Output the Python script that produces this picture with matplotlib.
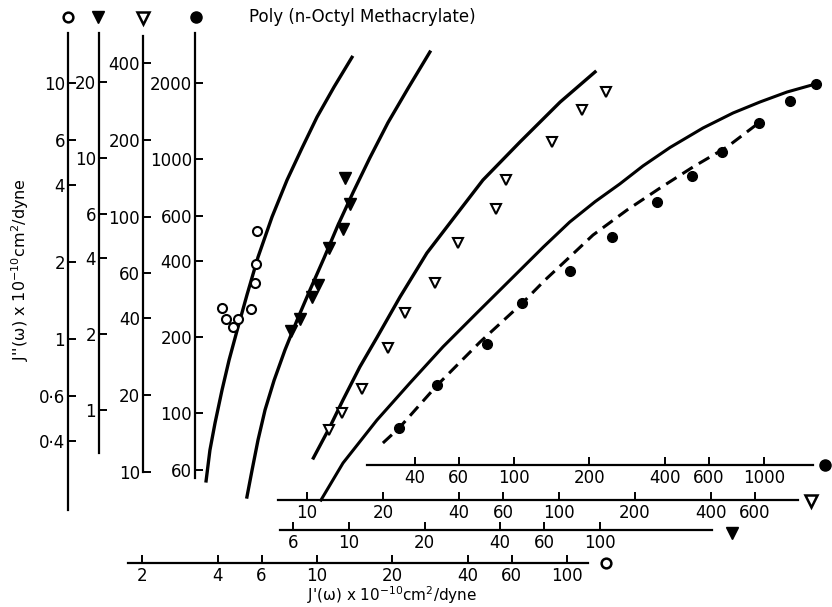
import matplotlib.pyplot as plt

plt.rcParams['font.family'] = 'DejaVu Sans'
plt.rcParams['mathtext.default'] = 'regular'

# --- values (each symbol has its own pair of scales) ---
# open circles
oc_x = [4.17, 4.31, 4.61, 4.81, 5.45, 5.65, 5.70, 5.75]
oc_y = [1.32, 1.20, 1.11, 1.20, 1.31, 1.66, 1.97, 2.64]
oc_fit_x = [3.60, 3.73, 3.91, 4.17, 4.45, 4.79, 5.25, 5.81, 6.61, 7.59, 8.71, 10.0, 11.7, 13.8]
oc_fit_y = [0.279, 0.368, 0.470, 0.632, 0.828, 1.08, 1.49, 2.09, 3.00, 4.18, 5.57, 7.36, 9.65, 12.6]

# filled triangles
ft_x = [9.64, 10.1, 9.46, 8.36, 7.52, 7.09, 6.38, 5.87]
ft_y = [8.32, 6.56, 5.22, 4.39, 3.12, 2.80, 2.29, 2.06]
ft_fit_x = [3.92, 4.11, 4.34, 4.63, 5.03, 5.56, 6.21, 6.99, 7.95, 9.04, 10.4, 12.1, 14.3, 17.2, 21.0]
ft_fit_y = [0.451, 0.577, 0.759, 1.00, 1.31, 1.73, 2.27, 2.99, 4.00, 5.41, 7.32, 9.99, 13.8, 18.9, 26.3]

# open triangles
ot_x = [12.2, 13.8, 16.5, 21.0, 24.5, 32.2, 39.7, 56.2, 61.6, 93.8, 123, 154]
ot_y = [14.6, 17.0, 21.1, 30.5, 41.8, 54.9, 78.7, 107, 139, 196, 262, 308]
ot_fit_x = [10.6, 12.3, 13.9, 16.2, 19.0, 23.4, 29.9, 36.9, 49.9, 70.0, 101, 139]
ot_fit_y = [11.3, 14.9, 19.1, 25.7, 33.7, 48.4, 71.9, 94.3, 139, 196, 281, 369]

# filled circles
fc_x = [34.7, 49.2, 78.0, 108, 167, 247, 373, 515, 679, 955, 1276, 1607]
fc_y = [87.6, 129, 188, 272, 364, 493, 677, 861, 1070, 1398, 1699, 1982]
fc_fit_x = [16.9, 20.7, 28.3, 38.4, 52.0, 71.1, 96.4, 131, 167, 211, 265, 328, 421, 570, 752, 964, 1236, 1607]
fc_fit_y = [45.6, 63.8, 94.2, 132, 183, 249, 335, 452, 567, 682, 801, 943, 1115, 1330, 1524, 1684, 1843, 1982]
fc_dash_x = [29.9, 34.7, 49.2, 73.1, 108, 133, 167, 207, 283, 384, 520, 711, 964]
fc_dash_y = [76.5, 87.6, 129, 191, 272, 335, 413, 504, 632, 772, 934, 1119, 1405]

# tick values
oc_xticks = [2, 4, 6, 10, 20, 40, 60, 100]
oc_yticks = [0.4, 0.6, 1, 2, 4, 6, 10]
oc_ylabels = ['0·4', '0·6', '1', '2', '4', '6', '10']
ft_xticks = [6, 10, 20, 40, 60, 100]
ft_yticks = [1, 2, 4, 6, 10, 20]
ot_xticks = [10, 20, 40, 60, 100, 200, 400, 600]
ot_yticks = [10, 20, 40, 60, 100, 200, 400]
fc_xticks = [40, 60, 100, 200, 400, 600, 1000]
fc_yticks = [60, 100, 200, 400, 600, 1000, 2000]

W, H = 832, 607
fig = plt.figure(figsize=(W / 100, H / 100), dpi=100)


def scaled_axes(xcal, ycal):
    # xcal / ycal: (reference value, its pixel, pixels per decade)
    ax = fig.add_axes([0, 0, 1, 1])
    ax.set_xscale('log')
    ax.set_yscale('log')
    xv, xp, xd = xcal
    yv, yp, yd = ycal
    ax.set_xlim(xv * 10 ** (-xp / xd), xv * 10 ** ((W - xp) / xd))
    ax.set_ylim(yv * 10 ** (-(H - yp) / yd), yv * 10 ** (yp / yd))
    ax.patch.set_visible(False)
    ax.spines[['top', 'right']].set_visible(False)

    def fx(px):
        return xv * 10 ** ((px - xp) / xd)

    def fy(py):
        return yv * 10 ** ((yp - py) / yd)
    return ax, fx, fy


def frame(ax, fx, fy, left_px, ybounds, bottom_py, xbounds,
          xticks, xlabels, yticks, ylabels):
    ax.spines['left'].set_position(('data', fx(left_px)))
    ax.spines['left'].set_bounds(fy(ybounds[1]), fy(ybounds[0]))
    ax.spines['bottom'].set_position(('data', fy(bottom_py)))
    ax.spines['bottom'].set_bounds(fx(xbounds[0]), fx(xbounds[1]))
    for s in ('left', 'bottom'):
        ax.spines[s].set_linewidth(1.6)
    ax.set_xticks(xticks, xlabels)
    ax.set_yticks(yticks, ylabels)
    ax.minorticks_off()
    ax.tick_params(direction='in', length=6, width=1.4, labelsize=12)
    ax.tick_params(axis='y', pad=2)
    ax.tick_params(axis='x', pad=3)


def labels(ticks):
    return [str(t) for t in ticks]


# open circles
ax, fx, fy = scaled_axes((10, 317, 250), (10, 83, 256))
frame(ax, fx, fy, 68, (33, 510), 563, (128, 588),
      oc_xticks, labels(oc_xticks), oc_yticks, oc_ylabels)
ax.plot(oc_fit_x, oc_fit_y, color='k', lw=2.4)
ax.plot(oc_x, oc_y, 'o', mfc='white', mec='k', ms=6.5, mew=1.5)
ax.plot([fx(68), fx(606)], [fy(17), fy(563)], 'o', mfc='white', mec='k',
        ms=7, mew=1.8, ls='none', clip_on=False)

# filled triangles
ax, fx, fy = scaled_axes((10, 349, 251), (20, 82, 252))
frame(ax, fx, fy, 99, (33, 453), 530, (280, 712),
      ft_xticks, labels(ft_xticks), ft_yticks, labels(ft_yticks))
ax.plot(ft_fit_x, ft_fit_y, color='k', lw=2.4)
ax.plot(ft_x, ft_y, 'v', color='k', ms=8)
ax.plot([fx(98), fx(732)], [fy(17), fy(533)], 'v', color='k', ms=9,
        ls='none', clip_on=False)

# open triangles
ax, fx, fy = scaled_axes((10, 307, 252), (400, 63, 255))
frame(ax, fx, fy, 143, (36, 472), 500, (278, 798),
      ot_xticks, labels(ot_xticks), ot_yticks, labels(ot_yticks))
ax.plot(ot_fit_x, ot_fit_y, color='k', lw=2.4)
ax.plot(ot_x, ot_y, 'v', mfc='white', mec='k', ms=7, mew=1.5)
ax.plot([fx(143), fx(811)], [fy(18), fy(501)], 'v', mfc='white', mec='k',
        ms=8, mew=1.8, ls='none', clip_on=False)

# filled circles
ax, fx, fy = scaled_axes((100, 514, 250), (2000, 83, 254))
frame(ax, fx, fy, 195, (33, 478), 465, (367, 813),
      fc_xticks, labels(fc_xticks), fc_yticks, labels(fc_yticks))
ax.plot(fc_fit_x, fc_fit_y, color='k', lw=2.2)
ax.plot(fc_dash_x, fc_dash_y, color='k', lw=2.2, ls=(0, (4, 2.3)))
ax.plot(fc_x, fc_y, 'o', color='k', ms=7)
ax.plot([fx(196), fx(825)], [fy(17), fy(465)], 'o', color='k', ms=8,
        ls='none', clip_on=False)

fig.text(249 / W, 1 - 17 / H, 'Poly (n-Octyl Methacrylate)',
         ha='left', va='center', fontsize=12)
fig.text(20 / W, 1 - 270 / H,
         "J''(\u03c9) x 10$^{-10}$cm$^{2}$/dyne",
         rotation=90, ha='center', va='center', fontsize=11.5)
fig.text(392 / W, 1 - 595 / H,
         "J'(\u03c9) x 10$^{-10}$cm$^{2}$/dyne",
         ha='center', va='center', fontsize=11)

fig.savefig('out.png', dpi=100)
